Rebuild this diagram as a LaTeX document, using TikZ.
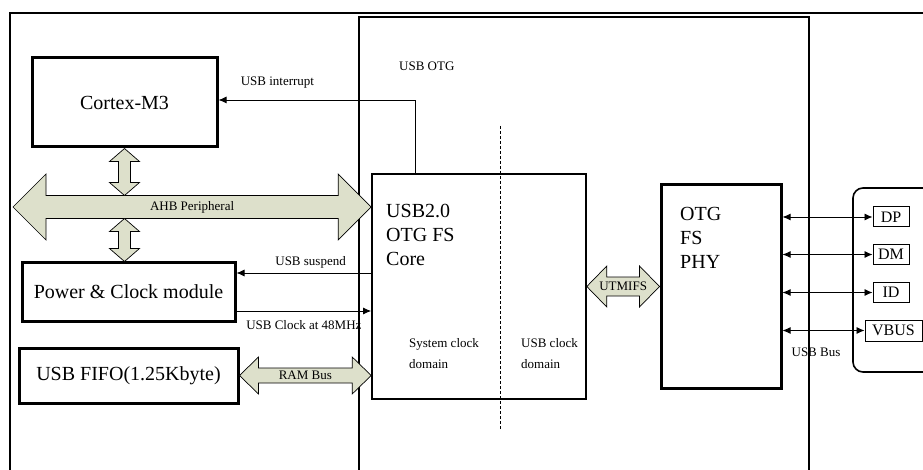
\documentclass[tikz,border=0pt]{standalone}
\usepackage{fontspec}
\setmainfont{Liberation Serif}
\usetikzlibrary{arrows.meta}
\definecolor{busfill}{RGB}{221,224,203}
% 粗总线箭头：#1 左端，#2 右端，#3 杆半宽，#4 头半宽，#5 头长，#6 文字
\newcommand{\hbus}[6]{%
  \draw[bus] (#1) -- ([shift={(#5,-#4)}]#1) -- ([shift={(#5,-#3)}]#1) -- ([shift={(-#5,-#3)}]#2)
    -- ([shift={(-#5,-#4)}]#2) -- (#2) -- ([shift={(-#5,#4)}]#2) -- ([shift={(-#5,#3)}]#2)
    -- ([shift={(#5,#3)}]#1) -- ([shift={(#5,#4)}]#1) -- cycle;
  \path (#1) -- node[buslbl] {#6} (#2);}
% 竖直总线箭头：#1 上端，#2 下端
\newcommand{\vbus}[5]{%
  \draw[bus] (#1) -- ([shift={(#4,#5)}]#1) -- ([shift={(#3,#5)}]#1) -- ([shift={(#3,-#5)}]#2)
    -- ([shift={(#4,-#5)}]#2) -- (#2) -- ([shift={(-#4,-#5)}]#2) -- ([shift={(-#3,-#5)}]#2)
    -- ([shift={(-#3,#5)}]#1) -- ([shift={(-#4,#5)}]#1) -- cycle;}
\tikzset{
  blk/.style={draw, line width=3pt, font=\fontsize{20}{24}\selectfont},
  thinbox/.style={draw, line width=1.6pt},
  bigtxt/.style={font=\fontsize{20}{24}\selectfont, anchor=north west, align=left, inner sep=0pt},
  lbl/.style={font=\fontsize{13}{21}\selectfont, inner sep=0pt},
  pin/.style={draw, line width=1pt, inner sep=0pt, font=\fontsize{16}{18}\selectfont},
  bus/.style={draw, line width=0.7pt, fill=busfill},
  buslbl/.style={font=\fontsize{13}{15}\selectfont, inner sep=0pt},
  sig/.style={line width=0.9pt},
}
\begin{document}
\begin{tikzpicture}[x=1pt, y=-1pt, >={Latex[length=8pt,width=7pt]}]
  \useasboundingbox (0,0) rectangle (923,470);
  % 外框与 USB OTG 区域
  \draw[line width=2.6pt] (10,470) -- (10,13) -- (923,13);
  \draw[line width=1.6pt] (359,470) -- (359,17) -- (809,17) -- (809,470);
  \node[lbl, anchor=north west] (otg) at (399,62) {USB OTG};
  % 左侧模块
  \node[blk, minimum width=185, minimum height=89] (cortex) at (124.5,102.5) {Cortex-M3};
  \node[blk, minimum width=213, minimum height=58] (power) at (128.5,292) {Power \& Clock module};
  \node[blk, minimum width=219, minimum height=55] (fifo) at (128.5,375.5) {USB FIFO(1.25Kbyte)};
  % USB 内核
  \node[thinbox, minimum width=214, minimum height=225] (core) at (479,286.5) {};
  \node[bigtxt] (coretxt) at (386,204) {USB2.0\\OTG FS\\Core};
  \node[lbl, anchor=north west, align=left] (sysclk) at (409,338) {System clock\\domain};
  \node[lbl, anchor=north west, align=left] (usbclk) at (521,338) {USB clock\\domain};
  \draw[line width=0.7pt, dash pattern=on 3pt off 2pt] (500,126) -- (500,430);
  % PHY
  \node[blk, minimum width=120, minimum height=203] (phy) at (721,286.5) {};
  \node[bigtxt] (phytxt) at (680,207) {OTG\\FS\\PHY};
  % 引脚
  \draw[line width=1.6pt, rounded corners=10pt] (923,188) -- (853,188) -- (853,372) -- (923,372);
  \foreach \name/\txt/\y in {dp/DP/217, dm/DM/254.5, id/ID/292.5}{
    \node[pin, minimum width=36, minimum height=20] (\name) at (891,\y) {\txt};
  }
  \node[pin, minimum width=57, minimum height=21] (vbus) at (893.5,330.5) {VBUS};
  \foreach \p in {dp,dm,id,vbus}{
    \draw[sig, <->] (phy.east |- \p.west) -- (\p.west);
  }
  \node[lbl, anchor=base] (usbbus) at (816,356) {USB Bus};
  % 总线
  \coordinate (ahbL) at (13,207);
  \coordinate (ahbtop) at (124.5,195.5);
  \coordinate (ahbbot) at (124.5,218.5);
  \hbus{ahbL}{core.west |- ahbL}{11.5}{33}{33}{AHB Peripheral}
  \vbus{cortex.south}{cortex.south |- ahbtop}{6}{15}{13}
  \vbus{ahbbot}{ahbbot |- power.north}{6}{15}{13}
  \hbus{fifo.east}{core.west |- fifo.east}{7.5}{18.5}{19}{RAM Bus}
  \hbus{core.east}{phy.west}{9.5}{20.5}{20}{UTMIFS}
  % 控制信号
  \coordinate (irq) at ([yshift=2.5pt]cortex.east);
  \coordinate (sus) at ([yshift=19pt]power.east);
  \coordinate (clk) at ([yshift=-19pt]power.east);
  \draw[sig, ->] ([xshift=-64pt]core.north) |- node[lbl, pos=0.85, above=11pt] {USB interrupt} (irq);
  \draw[sig, ->] (core.west |- sus) -- node[lbl, pos=0.45, above=4pt] {USB suspend} (sus);
  \draw[sig, ->] (clk) -- node[lbl, below=9pt] {USB Clock at 48MHz} (core.west |- clk);
\end{tikzpicture}
\end{document}
